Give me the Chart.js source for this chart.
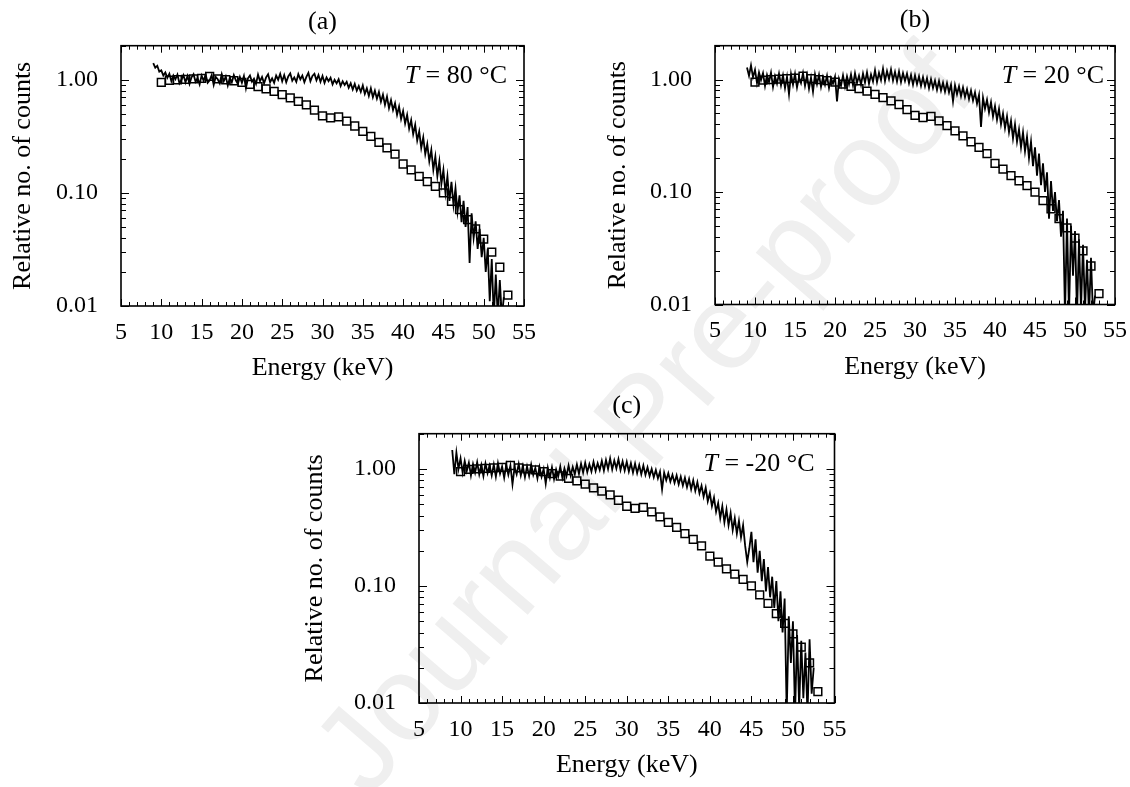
<!DOCTYPE html>
<html>
<head>
<meta charset="utf-8">
<title>Relative counts vs energy</title>
<script src="https://cdn.jsdelivr.net/npm/chart.js@4.4.0/dist/chart.umd.min.js"></script>
<style>
  html, body { margin: 0; padding: 0; background: #fff; }
  body { position: relative; width: 1130px; height: 787px; overflow: hidden; }
  canvas { position: absolute; z-index: 1; }
  #mark {
    position: absolute; left: 642px; top: 418px; z-index: 0;
    transform: translate(-50%, -50%) rotate(-49.2deg);
    font: 121px 'Liberation Sans', sans-serif; color: #efefef; white-space: nowrap;
  }
</style>
</head>
<body>
<div id="mark">Journal Pre-proof</div>
<canvas id="panelA" width="545" height="400" style="left:0px;top:0px"></canvas>
<canvas id="panelB" width="536" height="400" style="left:594px;top:0px"></canvas>
<canvas id="panelC" width="556" height="399" style="left:298px;top:388px"></canvas>
<script>
// measured spectra, sampled every 0.25 keV
const energies = [
  9, 9.25, 9.5, 9.75, 10, 10.25, 10.5, 10.75, 11, 11.25, 11.5, 11.75,
  12, 12.25, 12.5, 12.75, 13, 13.25, 13.5, 13.75, 14, 14.25, 14.5, 14.75,
  15, 15.25, 15.5, 15.75, 16, 16.25, 16.5, 16.75, 17, 17.25, 17.5, 17.75,
  18, 18.25, 18.5, 18.75, 19, 19.25, 19.5, 19.75, 20, 20.25, 20.5, 20.75,
  21, 21.25, 21.5, 21.75, 22, 22.25, 22.5, 22.75, 23, 23.25, 23.5, 23.75,
  24, 24.25, 24.5, 24.75, 25, 25.25, 25.5, 25.75, 26, 26.25, 26.5, 26.75,
  27, 27.25, 27.5, 27.75, 28, 28.25, 28.5, 28.75, 29, 29.25, 29.5, 29.75,
  30, 30.25, 30.5, 30.75, 31, 31.25, 31.5, 31.75, 32, 32.25, 32.5, 32.75,
  33, 33.25, 33.5, 33.75, 34, 34.25, 34.5, 34.75, 35, 35.25, 35.5, 35.75,
  36, 36.25, 36.5, 36.75, 37, 37.25, 37.5, 37.75, 38, 38.25, 38.5, 38.75,
  39, 39.25, 39.5, 39.75, 40, 40.25, 40.5, 40.75, 41, 41.25, 41.5, 41.75,
  42, 42.25, 42.5, 42.75, 43, 43.25, 43.5, 43.75, 44, 44.25, 44.5, 44.75,
  45, 45.25, 45.5, 45.75, 46, 46.25, 46.5, 46.75, 47, 47.25, 47.5, 47.75,
  48, 48.25, 48.5, 48.75, 49, 49.25, 49.5, 49.75, 50, 50.25, 50.5, 50.75,
  51, 51.25, 51.5, 51.75, 52, 52.25, 52.5
];

// T = 80 °C
const countsA = [
  1.40, 1.28, 1.33, 1.18,  1.21, 1.09, 1.16, 1.04,  1.13, 0.97, 1.09, 1.01,
  1.11, 0.93, 1.00, 1.10,  0.95, 1.08, 0.92, 1.05,  1.12, 0.96, 1.03, 0.91,
  1.09, 0.98, 1.11, 0.94,  0.99, 1.10, 0.90, 1.06,  1.01, 0.93, 1.12, 0.97,
  1.07, 0.89, 1.04, 0.95,  1.10, 0.99, 0.92, 1.06,  0.94, 1.08, 0.84, 1.03,
  1.09, 0.96, 1.02, 0.92,  1.11, 0.97, 1.06, 0.93,  1.05, 1.12, 0.95, 1.03,
  0.94, 1.09, 1.00, 1.13,  0.97, 1.10, 0.95, 1.07,  1.14, 0.98, 1.05, 0.96,
  1.12, 1.01, 1.09, 0.95,  1.06, 1.15, 0.97, 1.08,  1.13, 0.99, 1.10, 0.96,
  1.08, 0.94, 1.05, 0.97,  1.04, 0.91, 1.00, 0.93,  1.01, 0.88, 0.97, 0.90,
  0.96, 0.85, 0.93, 0.82,  0.92, 0.80, 0.88, 0.78,  0.89, 0.75, 0.84, 0.72,
  0.84, 0.70, 0.80, 0.68,  0.78, 0.64, 0.74, 0.60,  0.71, 0.56, 0.66, 0.54,
  0.62, 0.49, 0.58, 0.45,  0.53, 0.41, 0.49, 0.37,  0.44, 0.33, 0.40, 0.29,
  0.35, 0.25, 0.31, 0.22,  0.27, 0.19, 0.24, 0.16,  0.21, 0.14, 0.19, 0.12,
  0.16, 0.10, 0.14, 0.085, 0.125, 0.078, 0.11, 0.068, 0.095, 0.055, 0.085, 0.05,
  0.075, 0.024, 0.066, 0.04, 0.056, 0.032, 0.048, 0.027, 0.04, 0.02, 0.032, 0.011,
  0.026, 0.008, 0.019, 0.008, 0.017, 0.008, 0.012
];

// T = 20 °C
const countsB = [
  1.28, 1.08, 1.34, 1.05,  1.22, 0.93, 1.16, 0.99,  1.14, 0.88, 1.10, 0.95,
  1.15, 0.86, 1.07, 0.92,  1.13, 0.89, 1.09, 0.84,  1.06, 0.74, 1.12, 0.90,
  1.12, 0.85, 1.05, 0.93,  1.14, 0.88, 1.09, 0.83,  1.04, 0.78, 1.11, 0.91,
  1.10, 0.86, 1.05, 0.90,  1.08, 0.84, 1.03, 0.92,  1.06, 0.64, 1.01, 0.88,
  1.09, 0.87, 1.07, 0.91,  1.11, 0.89, 1.14, 0.93,  1.08, 0.90, 1.13, 0.94,
  1.16, 0.92, 1.11, 0.96,  1.21, 0.95, 1.15, 0.99,  1.25, 0.97, 1.19, 1.01,
  1.23, 0.98, 1.17, 0.96,  1.18, 0.95, 1.14, 0.97,  1.13, 0.93, 1.10, 0.90,
  1.09, 0.91, 1.07, 0.88,  1.05, 0.87, 1.03, 0.84,  1.01, 0.84, 0.98, 0.81,
  0.97, 0.80, 0.94, 0.78,  0.93, 0.77, 0.90, 0.64,  0.89, 0.74, 0.87, 0.71,
  0.85, 0.70, 0.82, 0.67,  0.80, 0.65, 0.77, 0.61,  0.73, 0.38, 0.69, 0.55,
  0.66, 0.51, 0.63, 0.47,  0.58, 0.44, 0.55, 0.40,  0.50, 0.37, 0.47, 0.34,
  0.43, 0.30, 0.40, 0.28,  0.36, 0.25, 0.34, 0.23,  0.31, 0.20, 0.28, 0.17,
  0.25, 0.14, 0.22, 0.115, 0.18, 0.10, 0.15, 0.058, 0.125, 0.068, 0.10, 0.055,
  0.085, 0.04, 0.068, 0.008, 0.058, 0.008, 0.05, 0.018, 0.045, 0.008, 0.038, 0.009,
  0.034, 0.009, 0.025, 0.008, 0.026, 0.008, 0.012
];

// T = -20 °C
const countsC = [
  1.45, 0.90, 1.38, 1.00,  1.23, 0.93, 1.17, 0.96,  1.13, 0.88, 1.10, 0.93,
  1.14, 0.90, 1.08, 0.87,  1.11, 0.92, 1.07, 0.88,  1.09, 0.86, 1.12, 0.91,
  1.05, 0.84, 1.08, 0.89,  1.07, 0.74, 1.03, 0.90,  1.10, 0.88, 1.06, 0.85,
  1.05, 0.87, 1.09, 0.89,  1.02, 0.83, 1.04, 0.86,  1.00, 0.75, 1.02, 0.84,
  1.03, 0.82, 0.99, 0.86,  1.05, 0.84, 1.01, 0.87,  1.07, 0.88, 1.04, 0.90,
  1.09, 0.91, 1.11, 0.93,  1.13, 0.94, 1.10, 0.95,  1.15, 0.96, 1.12, 0.98,
  1.17, 0.97, 1.19, 1.00,  1.23, 0.99, 1.18, 1.01,  1.21, 0.98, 1.16, 0.97,
  1.15, 0.95, 1.12, 0.93,  1.11, 0.92, 1.08, 0.90,  1.07, 0.89, 1.03, 0.87,
  1.00, 0.85, 0.98, 0.83,  0.95, 0.67, 0.93, 0.80,  0.92, 0.78, 0.89, 0.76,
  0.88, 0.74, 0.86, 0.72,  0.84, 0.70, 0.82, 0.67,  0.80, 0.65, 0.77, 0.62,
  0.72, 0.58, 0.69, 0.53,  0.62, 0.48, 0.57, 0.43,  0.51, 0.38, 0.48, 0.35,
  0.45, 0.33, 0.42, 0.30,  0.38, 0.28, 0.36, 0.26,  0.33, 0.22, 0.16, 0.21,
  0.29, 0.16, 0.25, 0.13,  0.20, 0.11, 0.17, 0.09,  0.145, 0.08, 0.12, 0.065,
  0.11, 0.05, 0.09, 0.04,  0.078, 0.008, 0.055, 0.022, 0.05, 0.008, 0.038, 0.009,
  0.034, 0.011, 0.027, 0.008, 0.035, 0.012, 0.02
];

// reference spectrum (open squares), same in all three panels
const refEnergies = [
  10, 11, 12, 13, 14, 15, 16, 17, 18, 19, 20, 21, 22, 23, 24, 25, 26, 27, 28, 29, 30, 31,
  32, 33, 34, 35, 36, 37, 38, 39, 40, 41, 42, 43, 44, 45, 46, 47, 48, 49, 50, 51, 52, 53
];
const refCounts = [
  0.95, 0.99, 1.00, 1.01, 1.02, 1.03, 1.07, 1.02, 1.00, 0.98,
  0.95, 0.91, 0.87, 0.83, 0.79, 0.74, 0.69, 0.645, 0.60, 0.54,
  0.48, 0.46, 0.47, 0.43, 0.39, 0.35, 0.316, 0.28, 0.25, 0.22,
  0.18, 0.16, 0.14, 0.126, 0.114, 0.10, 0.084, 0.071, 0.058, 0.048,
  0.039, 0.030, 0.022, 0.0125
];

const panelTitles = ['(a)', '(b)', '(c)'];
const temperatures = ['80', '20', '-20'];
const yTicks = [0.01, 0.1, 1];

const FONT = "'Liberation Serif', 'Times New Roman', serif";
Chart.defaults.font.family = FONT;
Chart.defaults.color = '#000';

// frame, inward ticks on all four sides and the temperature label
const frameTicks = {
  id: 'frameTicks',
  afterDatasetsDraw(chart, args, opts) {
    const { ctx, chartArea: area, scales: { x, y } } = chart;
    ctx.save();
    ctx.strokeStyle = '#000';
    ctx.lineWidth = 1;
    ctx.beginPath();
    for (let e = x.min; e <= x.max; e++) {
      const px = Math.round(x.getPixelForValue(e)) + 0.5;
      const len = e % 5 === 0 ? 7 : 4;
      ctx.moveTo(px, area.bottom); ctx.lineTo(px, area.bottom - len);
      ctx.moveTo(px, area.top); ctx.lineTo(px, area.top + len);
    }
    for (const dec of yTicks) {
      for (let m = 1; m <= 9; m++) {
        const v = dec * m;
        if (v > y.max) break;
        const py = Math.round(y.getPixelForValue(v)) + 0.5;
        const len = m === 1 ? 8 : 5;
        ctx.moveTo(area.left, py); ctx.lineTo(area.left + len, py);
        ctx.moveTo(area.right, py); ctx.lineTo(area.right - len, py);
      }
    }
    ctx.stroke();
    ctx.lineWidth = 1.6;
    ctx.strokeRect(area.left, area.top, area.width, area.height);

    // "T = xx °C"
    const rest = ' = ' + opts.temp + ' °C';
    const xEnd = area.right - opts.gap;
    const base = area.top + 37;
    ctx.fillStyle = '#000';
    ctx.textBaseline = 'alphabetic';
    ctx.textAlign = 'left';
    ctx.font = '26px ' + FONT;
    const wRest = ctx.measureText(rest).width;
    ctx.fillText(rest, xEnd - wRest, base);
    ctx.font = 'italic 26px ' + FONT;
    const wT = ctx.measureText('T').width;
    ctx.fillText('T', xEnd - wRest - wT, base);
    ctx.restore();
  }
};

function makePanel(id, counts, idx, lay) {
  return new Chart(document.getElementById(id), {
    type: 'line',
    data: {
      datasets: [
        {
          data: energies.map((e, i) => ({ x: e, y: counts[i] })),
          borderColor: '#000',
          borderWidth: 1.8,
          pointRadius: 0,
          tension: 0
        },
        {
          data: refEnergies.map((e, i) => ({ x: e, y: refCounts[i] })),
          showLine: false,
          pointStyle: 'rect',
          pointRadius: 5.5,
          pointBorderWidth: 1.5,
          pointBorderColor: '#000',
          pointBackgroundColor: 'rgba(0,0,0,0)',
          borderColor: '#000'
        }
      ]
    },
    options: {
      responsive: false,
      animation: false,
      devicePixelRatio: 1,
      layout: { padding: { left: 0, top: 0, right: lay.padR, bottom: lay.padB } },
      plugins: {
        legend: { display: false },
        tooltip: { enabled: false },
        title: {
          display: true,
          text: panelTitles[idx],
          fullSize: false,
          color: '#000',
          font: { size: 26, weight: 'normal', family: FONT },
          padding: { top: lay.titleTop, bottom: 45.7 - 31.2 - lay.titleTop }
        },
        frameTicks: { temp: temperatures[idx], gap: lay.gap }
      },
      scales: {
        x: {
          type: 'linear',
          min: 5,
          max: 55,
          grid: { display: false, drawTicks: false },
          border: { display: false },
          ticks: { stepSize: 5, autoSkip: false, maxRotation: 0, padding: 12, font: { size: 24 } },
          title: { display: true, text: 'Energy (keV)', font: { size: 26 }, padding: 0 },
          afterFit: (s) => { s.height = 78; s.paddingLeft = 0; s.paddingRight = 0; }
        },
        y: {
          type: 'logarithmic',
          min: 0.01,
          max: 2,
          grid: { display: false, drawTicks: false },
          border: { display: false },
          ticks: { padding: 23, font: { size: 24 }, callback: (v) => Number(v).toFixed(2) },
          afterBuildTicks: (s) => { s.ticks = yTicks.map((v) => ({ value: v })); },
          title: {
            display: true,
            text: 'Relative no. of counts',
            font: { size: 26 },
            padding: { top: lay.yTitlePad, bottom: 0 }
          },
          afterFit: (s) => { s.width = 121; s.paddingTop = 0; s.paddingBottom = 0; }
        }
      }
    },
    plugins: [frameTicks]
  });
}

makePanel('panelA', countsA, 0, { padR: 21, padB: 16, titleTop: 6.4, yTitlePad: 7.4, gap: 17 });
makePanel('panelB', countsB, 1, { padR: 15, padB: 17.5, titleTop: 5, yTitlePad: 8.4, gap: 11 });
makePanel('panelC', countsC, 2, { padR: 19.5, padB: 6, titleTop: 2.4, yTitlePad: 1.4, gap: 20 });
</script>
</body>
</html>
